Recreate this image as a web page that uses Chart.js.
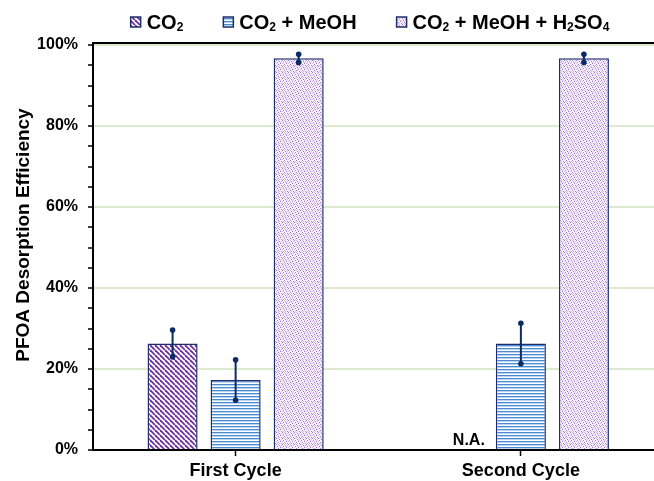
<!DOCTYPE html>
<html>
<head>
<meta charset="utf-8">
<script src="https://cdn.jsdelivr.net/npm/chart.js@4"></script>
<style>
  html, body { margin: 0; padding: 0; background: #fff; overflow: hidden; }
  #wrap { width: 668px; height: 481px; }
</style>
</head>
<body>
<div id="wrap"><canvas id="grafico" width="668" height="481"></canvas></div>
<script>
const categorias = ['First Cycle', 'Second Cycle']
const nomesSeries = ['CO₂', 'CO₂ + MeOH', 'CO₂ + MeOH + H₂SO₄']
const co2 = [26.3, null]
const co2Erro = [3.3, null]
const meoh = [17.3, 26.3]
const meohErro = [5.0, 5.0]
const h2so4 = [96.7, 96.7]
const h2so4Erro = [1.0, 1.0]
const tituloY = 'PFOA Desorption Efficiency'
const textoNA = 'N.A.'

const FONTE = "'Liberation Sans', Arial, sans-serif"
const AZUL_ESCURO = '#1f2d6e'
const PONTO_ERRO = '#0d2a63'

// padrões de preenchimento das barras
const criarPadrao = (w, h, desenhar) => {
    const c = document.createElement('canvas')
    c.width = w
    c.height = h
    const g = c.getContext('2d')
    desenhar(g)
    return document.getElementById('grafico').getContext('2d').createPattern(c, 'repeat')
}

const padraoDiagonal = criarPadrao(5, 5, (g) => {
    g.fillStyle = '#ffffff'
    g.fillRect(0, 0, 5, 5)
    g.strokeStyle = '#7030a0'
    g.lineWidth = 1.8
    for (let k = -5; k <= 5; k += 5) {
        g.beginPath()
        g.moveTo(k, 0)
        g.lineTo(k + 5, 5)
        g.stroke()
    }
})

const padraoHorizontal = criarPadrao(4, 3, (g) => {
    g.fillStyle = '#ffffff'
    g.fillRect(0, 0, 4, 3)
    g.fillStyle = '#4a8bd0'
    g.fillRect(0, 0, 4, 1)
    g.fillStyle = '#bcd6ef'
    g.fillRect(0, 1, 4, 1)
})

const padraoPontilhado = criarPadrao(6, 6, (g) => {
    g.fillStyle = '#f7f2fa'
    g.fillRect(0, 0, 6, 6)
    g.fillStyle = '#a57ad0'
    const escuros = [[0, 0], [3, 1], [1, 2], [4, 3], [2, 4], [5, 5]]
    escuros.forEach(([x, y]) => g.fillRect(x, y, 1, 1))
    g.fillStyle = '#d5bfe6'
    const claros = [[2, 0], [5, 1], [0, 3], [3, 5], [4, 2], [1, 5]]
    claros.forEach(([x, y]) => g.fillRect(x, y, 1, 1))
})

const padroes = [padraoDiagonal, padraoHorizontal, padraoPontilhado]
const erros = [co2Erro, meohErro, h2so4Erro]

// texto com subscrito (₀-₉ viram números menores)
const partesTexto = (texto) => {
    const partes = []
    for (const ch of texto) {
        const code = ch.charCodeAt(0)
        const sub = code >= 0x2080 && code <= 0x2089
        const t = sub ? String(code - 0x2080) : ch
        const ult = partes[partes.length - 1]
        if (ult && ult.sub === sub) ult.t += t
        else partes.push({ t, sub })
    }
    return partes
}

const desenharRico = (ctx, texto, x, y, tam) => {
    let cx = x
    partesTexto(texto).forEach(p => {
        ctx.font = 'bold ' + (p.sub ? Math.round(tam * 0.62) : tam) + 'px ' + FONTE
        ctx.fillText(p.t, cx, p.sub ? y + tam * 0.22 : y)
        cx += ctx.measureText(p.t).width
    })
    return cx - x
}

const larguraRica = (ctx, texto, tam) => {
    let w = 0
    partesTexto(texto).forEach(p => {
        ctx.font = 'bold ' + (p.sub ? Math.round(tam * 0.62) : tam) + 'px ' + FONTE
        w += ctx.measureText(p.t).width
    })
    return w
}

const extras = {
    id: 'extras',
    afterDatasetsDraw(chart) {
        const ctx = chart.ctx
        const y = chart.scales.y
        // barras de erro
        chart.data.datasets.forEach((ds, i) => {
            const meta = chart.getDatasetMeta(i)
            ds.data.forEach((v, j) => {
                const e = erros[i][j]
                if (v == null || e == null) return
                const x = meta.data[j].x
                const yTop = y.getPixelForValue(v + e)
                const yBot = y.getPixelForValue(v - e)
                ctx.save()
                ctx.strokeStyle = PONTO_ERRO
                ctx.lineWidth = 2
                ctx.beginPath()
                ctx.moveTo(x, yTop)
                ctx.lineTo(x, yBot)
                ctx.stroke()
                ctx.fillStyle = PONTO_ERRO
                ;[yTop, yBot].forEach(py => {
                    ctx.beginPath()
                    ctx.arc(x, py, 2.8, 0, Math.PI * 2)
                    ctx.fill()
                })
                ctx.restore()
            })
        })
        // N.A. onde não há barra
        const meta0 = chart.getDatasetMeta(0)
        co2.forEach((v, j) => {
            if (v != null) return
            const el = meta0.data[j]
            ctx.save()
            ctx.font = 'bold 16px ' + FONTE
            ctx.fillStyle = '#000'
            ctx.textAlign = 'right'
            ctx.textBaseline = 'alphabetic'
            ctx.fillText(textoNA, el.x + el.width / 2 + 2, chart.chartArea.bottom - 5)
            ctx.restore()
        })
    },
    afterDraw(chart) {
        const ctx = chart.ctx
        const area = chart.chartArea
        ctx.save()
        // linha preta no topo
        ctx.strokeStyle = '#000'
        ctx.lineWidth = 2
        ctx.beginPath()
        ctx.moveTo(area.left - 1, area.top - 2)
        ctx.lineTo(chart.width, area.top - 2)
        ctx.stroke()
        ctx.beginPath()
        ctx.moveTo(area.left, area.top - 3)
        ctx.lineTo(area.left, area.top)
        ctx.stroke()

        // título do eixo y
        ctx.translate(24, 235)
        ctx.rotate(-Math.PI / 2)
        ctx.font = 'bold 19px ' + FONTE
        ctx.fillStyle = '#000'
        ctx.textAlign = 'center'
        ctx.textBaseline = 'middle'
        ctx.fillText(tituloY, 0, 0)
        ctx.restore()

        // legenda
        ctx.save()
        const tam = 20
        const caixa = 10
        const gapTexto = 6
        const gapItem = 40
        let total = 0
        nomesSeries.forEach((n, i) => {
            total += caixa + gapTexto + larguraRica(ctx, n, tam)
            if (i < nomesSeries.length - 1) total += gapItem
        })
        let x = 370 - total / 2
        const yMeio = 22
        ctx.textBaseline = 'middle'
        ctx.fillStyle = '#000'
        nomesSeries.forEach((n, i) => {
            ctx.fillStyle = padroes[i]
            ctx.fillRect(x, yMeio - caixa / 2, caixa, caixa)
            ctx.strokeStyle = AZUL_ESCURO
            ctx.lineWidth = 1.5
            ctx.strokeRect(x, yMeio - caixa / 2, caixa, caixa)
            x += caixa + gapTexto
            ctx.fillStyle = '#000'
            x += desenharRico(ctx, n, x, yMeio + 1, tam)
            x += gapItem
        })
        ctx.restore()
    }
}

const montarDatasets = () => {
    const valores = [co2, meoh, h2so4]
    return valores.map((dados, i) => ({
        label: nomesSeries[i],
        data: dados,
        backgroundColor: padroes[i],
        borderColor: AZUL_ESCURO,
        borderWidth: 1.5,
        borderSkipped: 'bottom',
        categoryPercentage: 0.663,
        barPercentage: 0.794
    }))
}

new Chart(document.getElementById('grafico'), {
    type: 'bar',
    data: {
        labels: categorias,
        datasets: montarDatasets()
    },
    plugins: [extras],
    options: {
        responsive: false,
        animation: false,
        devicePixelRatio: 1,
        layout: { padding: { top: 45, right: 4.5, left: 0, bottom: 0 } },
        plugins: {
            legend: { display: false },
            tooltip: { enabled: false }
        },
        scales: {
            x: {
                offset: true,
                grid: {
                    offset: false,
                    drawOnChartArea: false,
                    tickColor: '#000',
                    tickLength: 6,
                    tickWidth: 1.5
                },
                border: { color: '#000', width: 2 },
                ticks: {
                    color: '#000',
                    padding: 4,
                    font: { family: FONTE, size: 18, weight: 'bold' }
                },
                afterFit: (s) => { s.height = 31 }
            },
            y: {
                min: 0,
                max: 100,
                grid: {
                    color: (c) => (c.tick && c.tick.value % 20 === 0 && c.tick.value > 0) ? '#dcebd0' : 'rgba(0,0,0,0)',
                    lineWidth: 2,
                    tickColor: '#000',
                    tickLength: 5,
                    tickWidth: 1.5
                },
                border: { color: '#000', width: 2 },
                ticks: {
                    stepSize: 5,
                    autoSkip: false,
                    color: '#000',
                    padding: 10,
                    font: { family: FONTE, size: 16, weight: 'bold' },
                    callback: (v) => v % 20 === 0 ? v + '%' : ''
                },
                afterFit: (s) => { s.width = 93 }
            }
        }
    }
})
</script>
</body>
</html>
